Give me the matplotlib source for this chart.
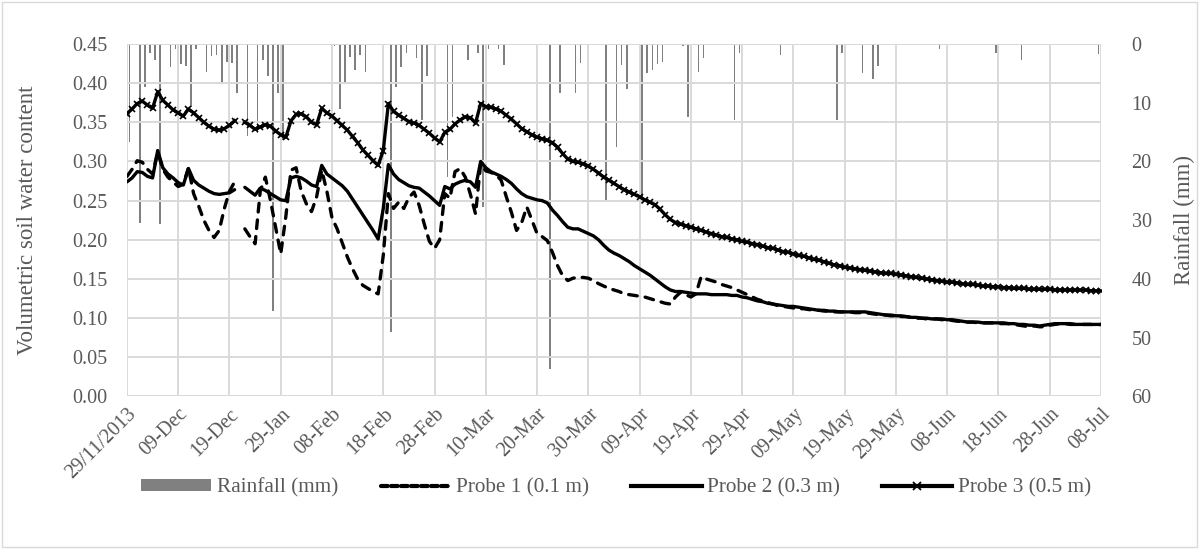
import numpy as np
import matplotlib
matplotlib.use("Agg")
import matplotlib.pyplot as plt
from matplotlib.patches import Patch, Rectangle
from matplotlib.lines import Line2D

plt.rcParams['font.family'] = ['Liberation Serif', 'DejaVu Serif']

nan = np.nan

# x axis: one category per row, labels every 10 rows (row 22 is blank)
tick_labels = ['29/11/2013', '09-Dec', '19-Dec', '29-Jan', '08-Feb', '18-Feb', '28-Feb',
               '10-Mar', '20-Mar', '30-Mar', '09-Apr', '19-Apr', '29-Apr', '09-May',
               '19-May', '29-May', '08-Jun', '18-Jun', '28-Jun', '08-Jul']

probe1 = [
    0.281, 0.290, 0.301, 0.299, 0.290, 0.284, 0.312, 0.290, 0.280, 0.274,
    0.268, 0.271, 0.292, 0.259, 0.243, 0.225, 0.212, 0.203, 0.212, 0.240,
    0.262, 0.274, nan, 0.214, 0.204, 0.195, 0.262, 0.280, 0.250, 0.216,
    0.182, 0.230, 0.289, 0.292, 0.262, 0.246, 0.236, 0.255, 0.289, 0.262,
    0.228, 0.214, 0.196, 0.178, 0.163, 0.150, 0.142, 0.138, 0.134, 0.131,
    0.180, 0.259, 0.240, 0.248, 0.240, 0.254, 0.261, 0.244, 0.220, 0.198,
    0.189, 0.200, 0.259, 0.253, 0.287, 0.291, 0.280, 0.258, 0.233, 0.297,
    0.288, 0.286, 0.283, 0.276, 0.255, 0.235, 0.212, 0.222, 0.242, 0.225,
    0.208, 0.204, 0.199, 0.184, 0.167, 0.154, 0.148, 0.151, 0.152, 0.152,
    0.151, 0.148, 0.144, 0.141, 0.138, 0.136, 0.134, 0.131, 0.130, 0.129,
    0.128, 0.127, 0.125, 0.123, 0.121, 0.119, 0.118, 0.127, 0.133, 0.130,
    0.127, 0.131, 0.153, 0.150, 0.148, 0.146, 0.143, 0.141, 0.139, 0.136,
    0.133, 0.130, 0.127, 0.124, 0.122, 0.120, 0.118, 0.116, 0.115, 0.114,
    0.113, 0.112, 0.112, 0.111, 0.110, 0.110, 0.109, 0.109, 0.108, 0.108,
    0.108, 0.108, 0.107, 0.107, 0.107, 0.106, 0.105, 0.104, 0.104, 0.103,
    0.103, 0.102, 0.102, 0.101, 0.100, 0.100, 0.099, 0.099, 0.099, 0.098,
    0.098, 0.097, 0.096, 0.096, 0.095, 0.095, 0.094, 0.094, 0.094, 0.094,
    0.093, 0.093, 0.093, 0.092, 0.091, 0.090, 0.089, 0.090, 0.089, 0.089,
    0.091, 0.092, 0.093, 0.093, 0.092, 0.092, 0.092, 0.092, 0.092, 0.091, 0.092,
]

probe2 = [
    0.274, 0.279, 0.287, 0.286, 0.281, 0.279, 0.314, 0.292, 0.284, 0.279,
    0.273, 0.270, 0.291, 0.276, 0.270, 0.266, 0.262, 0.259, 0.258, 0.259,
    0.260, 0.264, nan, 0.267, 0.262, 0.257, 0.266, 0.263, 0.259, 0.255,
    0.251, 0.250, 0.279, 0.281, 0.279, 0.275, 0.270, 0.268, 0.295, 0.284,
    0.279, 0.274, 0.269, 0.262, 0.252, 0.242, 0.232, 0.222, 0.212, 0.201,
    0.240, 0.296, 0.284, 0.277, 0.273, 0.269, 0.267, 0.266, 0.261, 0.256,
    0.250, 0.244, 0.268, 0.265, 0.271, 0.274, 0.276, 0.274, 0.267, 0.300,
    0.292, 0.287, 0.284, 0.281, 0.277, 0.272, 0.265, 0.259, 0.255, 0.253,
    0.251, 0.250, 0.247, 0.238, 0.231, 0.223, 0.216, 0.214, 0.214, 0.211,
    0.208, 0.205, 0.200, 0.193, 0.187, 0.183, 0.180, 0.176, 0.172, 0.167,
    0.163, 0.159, 0.155, 0.150, 0.145, 0.140, 0.136, 0.134, 0.134, 0.133,
    0.132, 0.131, 0.131, 0.131, 0.130, 0.130, 0.130, 0.130, 0.129, 0.129,
    0.127, 0.126, 0.124, 0.122, 0.121, 0.119, 0.118, 0.117, 0.116, 0.115,
    0.115, 0.114, 0.113, 0.112, 0.111, 0.110, 0.110, 0.109, 0.109, 0.108,
    0.108, 0.108, 0.108, 0.108, 0.108, 0.107, 0.106, 0.105, 0.104, 0.104,
    0.103, 0.103, 0.102, 0.101, 0.101, 0.100, 0.100, 0.099, 0.099, 0.099,
    0.098, 0.098, 0.097, 0.096, 0.095, 0.095, 0.095, 0.094, 0.094, 0.094,
    0.094, 0.094, 0.093, 0.093, 0.092, 0.092, 0.091, 0.091, 0.090, 0.091,
    0.092, 0.093, 0.093, 0.093, 0.093, 0.092, 0.092, 0.092, 0.092, 0.092, 0.092,
]

probe3 = [
    0.361, 0.367, 0.374, 0.377, 0.372, 0.368, 0.389, 0.378, 0.372, 0.366,
    0.362, 0.358, 0.367, 0.362, 0.356, 0.350, 0.345, 0.341, 0.340, 0.342,
    0.346, 0.352, nan, 0.350, 0.346, 0.341, 0.344, 0.347, 0.345, 0.339,
    0.334, 0.331, 0.352, 0.360, 0.361, 0.357, 0.350, 0.347, 0.368, 0.362,
    0.358, 0.352, 0.346, 0.340, 0.332, 0.324, 0.315, 0.308, 0.301, 0.295,
    0.314, 0.374, 0.364, 0.359, 0.355, 0.351, 0.349, 0.346, 0.341, 0.336,
    0.330, 0.325, 0.337, 0.341, 0.348, 0.353, 0.357, 0.356, 0.349, 0.374,
    0.370, 0.369, 0.367, 0.364, 0.359, 0.354, 0.348, 0.342, 0.338, 0.334,
    0.331, 0.329, 0.327, 0.324, 0.318, 0.310, 0.303, 0.300, 0.299, 0.297,
    0.294, 0.290, 0.285, 0.280, 0.276, 0.272, 0.268, 0.264, 0.261, 0.258,
    0.255, 0.251, 0.248, 0.245, 0.239, 0.232, 0.226, 0.222, 0.220, 0.218,
    0.216, 0.214, 0.212, 0.210, 0.208, 0.206, 0.204, 0.203, 0.201, 0.200,
    0.198, 0.197, 0.195, 0.194, 0.192, 0.190, 0.189, 0.187, 0.185, 0.184,
    0.182, 0.180, 0.179, 0.177, 0.175, 0.174, 0.172, 0.170, 0.168, 0.167,
    0.165, 0.164, 0.163, 0.162, 0.161, 0.160, 0.159, 0.158, 0.157, 0.157,
    0.156, 0.155, 0.154, 0.153, 0.152, 0.151, 0.150, 0.149, 0.148, 0.147,
    0.146, 0.146, 0.145, 0.144, 0.143, 0.143, 0.142, 0.141, 0.141, 0.140,
    0.140, 0.139, 0.139, 0.138, 0.138, 0.138, 0.137, 0.137, 0.137, 0.137,
    0.137, 0.136, 0.136, 0.136, 0.136, 0.136, 0.136, 0.136, 0.135, 0.135, 0.135,
]

# rainfall: row index and depth (mm), dry rows left out
rain_day = [0, 2, 3, 4, 5, 6, 8, 9, 10, 11, 12, 13, 15, 16, 17, 18, 19, 20, 21,
            23, 25, 26, 27, 28, 29, 30, 40, 41, 42, 43, 44, 45, 46, 51, 52, 53,
            54, 56, 57, 58, 62, 63, 66, 68, 69, 70, 72, 73, 82, 84, 86, 87, 88,
            93, 95, 96, 97, 100, 101, 102, 103, 104, 108, 109, 111, 112, 118,
            119, 126, 127, 138, 139, 143, 145, 146, 158, 169, 173, 174, 189]
rain_mm = [16.7, 30.5, 7.3, 1.5, 2.7, 30.6, 3.9, 0.9, 3.4, 3.8, 10.7, 0.9, 4.7,
           2.0, 1.9, 6.7, 3.0, 3.3, 8.3, 15.7, 15.2, 2.7, 5.5, 45.4, 8.4, 16.4,
           0.3, 11.0, 6.7, 2.2, 4.4, 1.9, 4.7, 49.0, 7.3, 3.9, 1.6, 2.4, 13.0,
           5.5, 22.7, 12.4, 2.7, 1.6, 27.7, 0.8, 0.9, 3.5, 55.3, 8.4, 0.2, 8.4,
           3.2, 26.6, 17.5, 3.5, 7.6, 27.2, 5.0, 4.4, 3.4, 3.0, 0.4, 12.4, 4.7,
           2.4, 12.9, 1.5, 0.2, 1.9, 13.0, 1.5, 5.0, 6.0, 3.8, 0.9, 1.5, 0.2,
           2.7, 1.7]

grid_c = '#D9D9D9'
text_c = '#595959'

fig = plt.figure(figsize=(12.01, 5.49), dpi=100)
fig.add_artist(Rectangle((0.002, 0.004), 0.995, 0.992, transform=fig.transFigure,
                         fill=False, edgecolor=grid_c, linewidth=1))

ax = fig.add_axes([0.1057, 0.2778, 0.8110, 0.6421])
ax2 = ax.twinx()

x = np.arange(len(probe1))

# rainfall hanging from the top on the reversed right axis
ax2.bar(np.array(rain_day) + 0.5, rain_mm, width=0.32, color='#808080', zorder=2)
ax2.set_ylim(60, 0)
ax2.set_yticks(np.arange(0, 61, 10))

ax.set_zorder(ax2.get_zorder() + 1)
ax.patch.set_visible(False)

ax.plot(x, probe1, color='black', lw=2.4, dashes=(2.6, 2.4), dash_capstyle='round', zorder=3)
ax.plot(x, probe2, color='black', lw=2.4, solid_capstyle='round', zorder=3)
ax.plot(x, probe3, color='black', lw=2.4, marker='x', ms=5, mew=1.2, zorder=3)

ax.set_xlim(0, 190)
ax.set_ylim(0, 0.45)
ax.set_yticks(np.arange(0, 0.451, 0.05))
ax.set_yticklabels([f'{v:.2f}' for v in np.arange(0, 0.451, 0.05)])
ax.set_xticks(np.arange(0, 191, 10))
ax.set_xticklabels(tick_labels, rotation=45, ha='right', rotation_mode='anchor')

ax.grid(True, color=grid_c, linewidth=1.4)
ax.set_axisbelow(True)
for a in (ax, ax2):
    for s in a.spines.values():
        s.set_visible(False)
    a.tick_params(length=0, labelsize=14.5, labelcolor=text_c)
ax.tick_params(axis='y', pad=14)
ax.tick_params(axis='x', pad=6)
ax2.tick_params(axis='y', pad=22)

ax.set_ylabel('Volumetric soil water content', fontsize=16.5, color=text_c, labelpad=25)
ax2.set_ylabel('Rainfall (mm)', fontsize=16.5, color=text_c, labelpad=16, rotation=90)

handles = [
    Patch(facecolor='#808080', edgecolor='none'),
    Line2D([], [], color='black', lw=3, dashes=(1.6, 0.8), dash_capstyle='round'),
    Line2D([], [], color='black', lw=3),
    Line2D([], [], color='black', lw=3, marker='x', ms=5.5, mew=1.3, markevery=[1]),
]
labels = ['Rainfall (mm)', 'Probe 1 (0.1 m)', 'Probe 2 (0.3 m)', 'Probe 3 (0.5 m)']
leg = fig.legend(handles, labels, loc='center', bbox_to_anchor=(0.513, 0.111), ncol=4,
                 frameon=False, fontsize=15.3, handlelength=3.3, handleheight=0.5,
                 handletextpad=0.25, columnspacing=2.0)
for t in leg.get_texts():
    t.set_color(text_c)

fig.savefig('out.png', dpi=100)
